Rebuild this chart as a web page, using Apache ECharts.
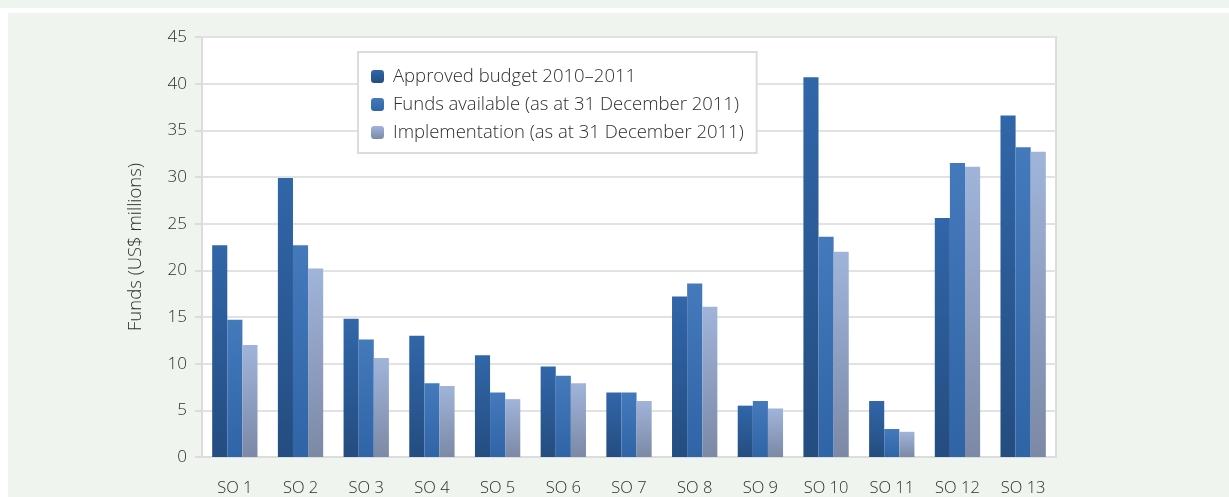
<!DOCTYPE html>
<html>
<head>
<meta charset="utf-8">
<title>Funds by strategic objective</title>
<script src="https://cdn.jsdelivr.net/npm/echarts@6/dist/echarts.min.js"></script>
<style>
  html, body { margin: 0; padding: 0; background: #fff; }
  #container { width: 1229px; height: 497px; }
</style>
</head>
<body>
<div id="container"></div>
<script>
// values (US$ millions)
var categories = ['SO 1', 'SO 2', 'SO 3', 'SO 4', 'SO 5', 'SO 6', 'SO 7', 'SO 8', 'SO 9', 'SO 10', 'SO 11', 'SO 12', 'SO 13'];
var approved = [22.7, 29.9, 14.8, 13.0, 10.9, 9.7, 6.9, 17.2, 5.5, 40.7, 6.0, 25.6, 36.6];
var available = [14.7, 22.7, 12.6, 7.9, 6.9, 8.7, 6.9, 18.6, 6.0, 23.6, 3.0, 31.5, 33.2];
var implemented = [12.0, 20.2, 10.6, 7.6, 6.2, 7.9, 6.0, 16.1, 5.2, 22.0, 2.7, 31.1, 32.7];
var seriesNames = ['Approved budget 2010\u20132011', 'Funds available (as at 31 December 2011)', 'Implementation (as at 31 December 2011)'];

var font = '"Open Sans"';
var txt = '#2e2e2e';
function grad(top, bottom) {
  return new echarts.graphic.LinearGradient(0, 0, 0, 1, [
    { offset: 0, color: top },
    { offset: 1, color: bottom }
  ]);
}

var myChart = echarts.init(document.getElementById('container'));
var option = {
  animation: false,
  textStyle: { fontFamily: font, fontWeight: 300 },
  graphic: [
    { type: 'rect', z: -10, shape: { x: 0, y: 0, width: 1229, height: 8 }, style: { fill: '#eef4ee' } },
    { type: 'rect', z: -10, shape: { x: 8, y: 13, width: 1221, height: 484 }, style: { fill: '#eff4ef' } }
  ],
  legend: {
    left: 358, top: 52,
    orient: 'vertical',
    padding: [15, 13, 11, 13],
    itemGap: 9,
    itemWidth: 13, itemHeight: 13,
    backgroundColor: '#fff',
    borderColor: '#dcdcdc', borderWidth: 2,
    textStyle: { fontSize: 18.5, color: txt, fontFamily: font, fontWeight: 300, padding: [0, 0, 0, 4] },
    data: seriesNames
  },
  grid: {
    left: 202, top: 37, right: 173, bottom: 40,
    show: true, backgroundColor: '#fff', borderColor: '#dcdcdc', borderWidth: 2
  },
  xAxis: {
    type: 'category',
    data: categories,
    axisLine: { lineStyle: { color: '#dcdcdc', width: 2 } },
    axisTick: { show: false },
    axisLabel: { fontSize: 16.5, color: txt, fontWeight: 300, margin: 23, interval: 0 }
  },
  yAxis: {
    type: 'value',
    min: 0, max: 45, interval: 5,
    name: 'Funds (US$ millions)',
    nameLocation: 'middle',
    nameGap: 57,
    nameTextStyle: { fontSize: 18.5, color: txt, fontWeight: 300 },
    axisLine: { show: true, lineStyle: { color: '#dcdcdc', width: 2 } },
    axisTick: { show: true, length: 7, lineStyle: { color: '#dcdcdc', width: 2 } },
    axisLabel: { fontSize: 17, color: txt, fontWeight: 300, margin: 15 },
    splitLine: { lineStyle: { color: '#e2e2e2', width: 2 } }
  },
  series: [
    {
      name: seriesNames[0], type: 'bar', data: approved,
      barGap: '0%', barCategoryGap: '31%',
      itemStyle: { color: grad('#3166a9', '#244d80') }
    },
    {
      name: seriesNames[1], type: 'bar', data: available,
      barGap: '0%', barCategoryGap: '31%',
      itemStyle: { color: grad('#447abb', '#2f64a6') }
    },
    {
      name: seriesNames[2], type: 'bar', data: implemented,
      barGap: '0%', barCategoryGap: '31%',
      itemStyle: { color: grad('#a0b4da', '#7c89a6') }
    }
  ]
};
myChart.setOption(option);
</script>
</body>
</html>
